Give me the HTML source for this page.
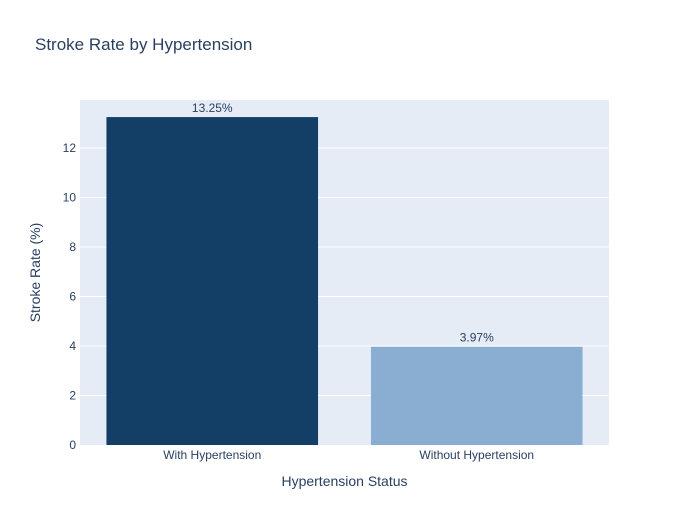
<!DOCTYPE html>
<html><head><meta charset="utf-8"><style>
body{margin:0;background:#fff;font-family:"Liberation Sans",Arial,sans-serif}
</style></head><body>
<svg id="chart" width="689" height="525" style="display:block">
<rect x="0" y="0" width="689" height="525" fill="#fff"/>
<text x="35" y="50" font-size="17" fill="#2a3f5f">Stroke Rate by Hypertension</text>
<rect x="80" y="100" width="529" height="345" fill="#e5ecf6"/>
<g id="grid"></g><g id="bars"></g><g id="labels"></g>
<text x="344.5" y="486" font-size="14" fill="#2a3f5f" text-anchor="middle">Hypertension Status</text>
<text transform="translate(40,272.5) rotate(-90)" font-size="14" fill="#2a3f5f" text-anchor="middle">Stroke Rate (%)</text>
</svg>
<script>
const categories=["With Hypertension","Without Hypertension"];
const values=[13.25,3.97];
const valueLabels=["13.25%","3.97%"];
const yTicks=[0,2,4,6,8,10,12];
const colors=["#133f67","#8aaed1"];
const NS="http://www.w3.org/2000/svg";
const L=80,R=609,T=100,B=445,yMax=13.94;
const y=v=>B-(v/yMax)*(B-T);
const bw=(R-L)/categories.length;
const xc=i=>L+bw*(i+0.5);
function mk(t,a,p){const e=document.createElementNS(NS,t);for(const k in a)e.setAttribute(k,a[k]);p.appendChild(e);return e;}
const g=document.getElementById('grid'),bg=document.getElementById('bars'),lg=document.getElementById('labels');
yTicks.forEach(t=>{
 if(t>0){const l=mk('line',{x1:L,x2:R,y1:y(t),y2:y(t),stroke:'#fff','stroke-width':1},g);
 
 }
 const tx=mk('text',{x:L-4,y:y(t)+4,'font-size':12,fill:'#2a3f5f','text-anchor':'end'},g);tx.textContent=t;
 
 
});
categories.forEach((c,i)=>{
 const w=bw*0.8;
 const r=mk('rect',{x:xc(i)-w/2,y:y(values[i]),width:w,height:B-y(values[i]),fill:colors[i]},bg);
 
 
 const v=mk('text',{x:xc(i),y:y(values[i])-5,'font-size':12,fill:'#2a3f5f','text-anchor':'middle'},lg);v.textContent=valueLabels[i];
 
 
 const xt=mk('text',{x:xc(i),y:B+14,'font-size':12,fill:'#2a3f5f','text-anchor':'middle'},lg);xt.textContent=c;
 
 
});
</script>
</body></html>
